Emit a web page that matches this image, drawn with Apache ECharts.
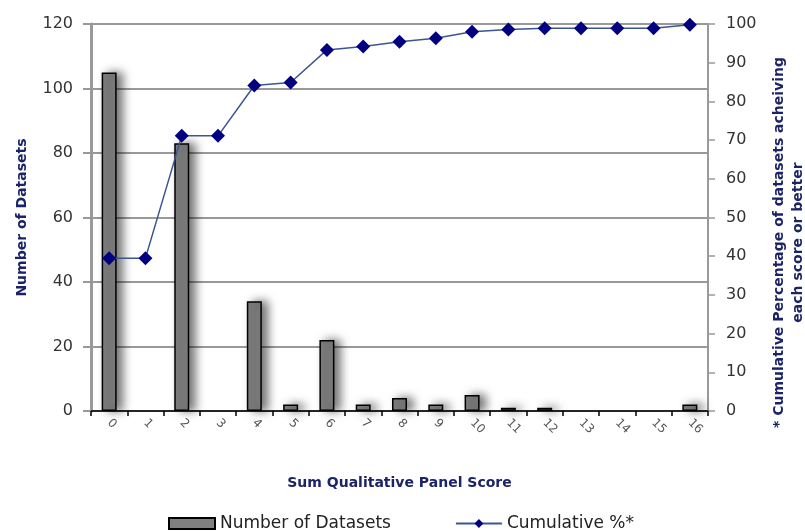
<!DOCTYPE html>
<html>
<head>
<meta charset="utf-8">
<script src="https://cdn.jsdelivr.net/npm/echarts@6/dist/echarts.min.js"></script>
<style>
html,body{margin:0;padding:0;background:#fff;}
#chart{width:805px;height:531px;}
</style>
</head>
<body>
<div id="chart"></div>
<script>
const categories = ['0','1','2','3','4','5','6','7','8','9','10','11','12','13','14','15','16'];
const datasetCounts = [105, 0, 83, 0, 34, 2, 22, 2, 4, 2, 5, 1, 1, 0, 0, 0, 2];
const cumulativePct = [39.5, 39.5, 71.1, 71.1, 84.1, 84.9, 93.3, 94.2, 95.4, 96.3, 98.0, 98.6, 98.9, 98.9, 98.9, 98.9, 99.8];
const leftTicks = {min: 0, max: 120, interval: 20};
const rightTicks = {min: 0, max: 100, interval: 10};

const FONT = '"DejaVu Sans", sans-serif';
const NAVY = '#1a2466';

const chart = echarts.init(document.getElementById('chart'));
chart.setOption({
  animation: false,
  backgroundColor: '#fff',
  grid: {left: 91, right: 97, top: 24, bottom: 120, containLabel: false, outerBoundsMode: 'none'},
  legend: {
    left: 163, top: 510,
    itemWidth: 46, itemHeight: 11, itemGap: 64,
    textStyle: {fontFamily: FONT, fontSize: 17, color: '#222'},
    data: [
      {name: 'Number of Datasets', icon: 'rect'},
      {name: 'Cumulative %*'}
    ]
  },
  xAxis: {
    type: 'category',
    data: categories,
    boundaryGap: true,
    name: 'Sum Qualitative Panel Score',
    nameLocation: 'middle',
    nameGap: 65,
    nameTextStyle: {fontFamily: FONT, fontSize: 14, fontWeight: 'bold', color: NAVY},
    axisLine: {lineStyle: {color: '#000', width: 1.5}},
    axisTick: {show: true, length: 5, lineStyle: {color: '#000', width: 1.5}},
    axisLabel: {rotate: -45, fontFamily: FONT, fontSize: 12, color: '#555', margin: 10, interval: 0},
    splitLine: {show: false}
  },
  yAxis: [
    {
      type: 'value',
      min: leftTicks.min, max: leftTicks.max, interval: leftTicks.interval,
      position: 'left',
      name: 'Number of Datasets',
      nameLocation: 'middle',
      nameRotate: 90,
      nameGap: 62,
      nameTextStyle: {fontFamily: FONT, fontSize: 14, fontWeight: 'bold', color: NAVY},
      axisLine: {show: true, lineStyle: {color: '#999', width: 3}},
      axisTick: {show: true, length: 8, lineStyle: {color: '#999', width: 2}},
      axisLabel: {fontFamily: FONT, fontSize: 16, color: '#333', margin: 18},
      splitLine: {show: true, lineStyle: {color: '#999', width: 2}}
    },
    {
      type: 'value',
      min: rightTicks.min, max: rightTicks.max, interval: rightTicks.interval,
      position: 'right',
      name: '* Cumulative Percentage of datasets acheiving\neach score or better',
      nameLocation: 'middle',
      nameRotate: 90,
      nameGap: 62,
      nameTextStyle: {fontFamily: FONT, fontSize: 14, fontWeight: 'bold', color: NAVY, align: 'center', lineHeight: 19, padding: [0, 50, 0, 0]},
      axisLine: {show: true, lineStyle: {color: '#999', width: 2}},
      axisTick: {show: true, length: 7, lineStyle: {color: '#999', width: 1.5}},
      axisLabel: {fontFamily: FONT, fontSize: 16, color: '#333', margin: 18},
      splitLine: {show: false}
    }
  ],
  series: [
    {
      name: 'Number of Datasets',
      type: 'bar',
      yAxisIndex: 0,
      data: datasetCounts.map(v => (v === 0 ? '-' : v)),
      barWidth: 15,
      itemStyle: {
        color: '#808080',
        borderColor: '#000',
        borderWidth: 1.5,
        shadowBlur: 10,
        shadowColor: 'rgba(0,0,0,0.55)',
        shadowOffsetX: 6,
        shadowOffsetY: 0
      },
      z: 2
    },
    {
      name: 'Cumulative %*',
      type: 'line',
      yAxisIndex: 1,
      data: cumulativePct,
      symbol: 'diamond',
      symbolSize: 14,
      itemStyle: {color: '#000080'},
      lineStyle: {color: '#3a5590', width: 1.5},
      z: 3
    }
  ]
});
</script>
</body>
</html>
